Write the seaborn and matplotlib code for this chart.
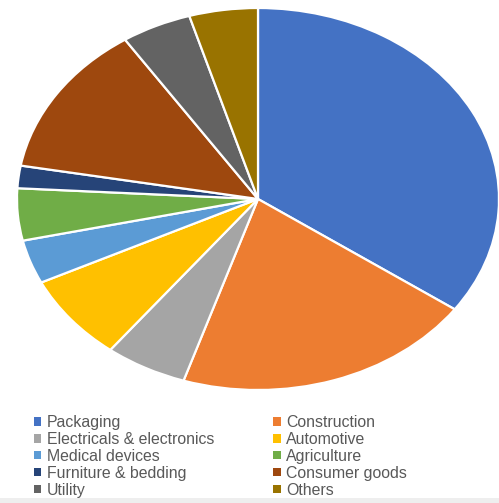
import matplotlib
matplotlib.use("Agg")
import matplotlib.pyplot as plt
import seaborn as sns
from matplotlib.patches import Rectangle

categories = ["Packaging", "Construction", "Electricals & electronics", "Automotive",
              "Medical devices", "Agriculture", "Furniture & bedding", "Consumer goods",
              "Utility", "Others"]
shares = [34.8, 20.2, 5.5, 7.3, 3.7, 4.4, 1.9, 12.9, 4.7, 4.6]
colors = ["#4472C4", "#ED7D31", "#A5A5A5", "#FFC000", "#5B9BD5",
          "#70AD47", "#264478", "#9E480E", "#636363", "#997300"]

sns.set_theme(style="white")
plt.rcParams['font.family'] = ['Liberation Sans', 'DejaVu Sans']

fig = plt.figure(figsize=(4.99, 5.03), dpi=100)
fig.patch.set_facecolor("white")
W, H = 499, 503
cx, cy, rx, ry = 258, 199, 241, 191
ax = fig.add_axes([(cx - rx) / W, (H - cy - ry) / H, 2 * rx / W, 2 * ry / H])
wedges, _ = ax.pie(shares, colors=colors, startangle=90, counterclock=False,
                   wedgeprops=dict(edgecolor="white", linewidth=1.6))
ax.set_aspect("auto")
ax.set_xlim(-1, 1)
ax.set_ylim(-1, 1)
ax.axis("off")

order = [0, 2, 4, 6, 8, 1, 3, 5, 7, 9]
leg = fig.legend([wedges[i] for i in order], [categories[i] for i in order],
                 ncol=2, loc="upper left", bbox_to_anchor=(34 / W, 1 - 415 / H),
                 frameon=False, fontsize=11.4, handlelength=0.45, handleheight=0.45,
                 handletextpad=0.35, labelspacing=0.12, columnspacing=3.75,
                 borderaxespad=0, borderpad=0)
for t in leg.get_texts():
    t.set_color("#595959")
for h in leg.legend_handles:
    h.set_edgecolor("none")

fig.patches.append(Rectangle((0, 0), 1, 5 / H, transform=fig.transFigure,
                             facecolor="#EEEEEE", edgecolor="none"))
fig.savefig("out.png", dpi=100)
